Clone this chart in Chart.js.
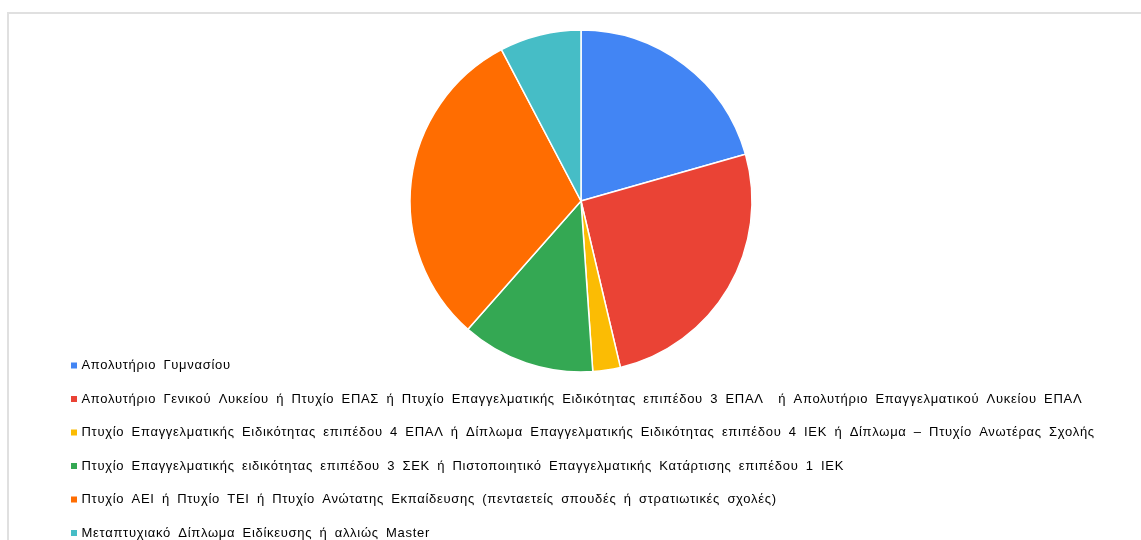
<!DOCTYPE html>
<html>
<head>
<meta charset="utf-8">
<script src="https://cdn.jsdelivr.net/npm/chart.js@4/dist/chart.umd.min.js"></script>
<style>
  body { margin: 0; background: #fff; overflow: hidden; }
  #frame { position: absolute; left: 7px; top: 12px; width: 1150px; height: 540px; border: 2px solid #e0e0e0; box-sizing: border-box; }
  #pie-chart { position: absolute; left: 0; top: 0; }
</style>
</head>
<body>
<div id="frame"></div>
<canvas id="pie-chart" width="1141" height="540"></canvas>
<script>
// titoli di studio
var categorie = [
    'Απολυτήριο Γυμνασίου',
    'Απολυτήριο Γενικού Λυκείου ή Πτυχίο ΕΠΑΣ ή Πτυχίο Επαγγελματικής Ειδικότητας επιπέδου 3 ΕΠΑΛ  ή Απολυτήριο Επαγγελματικού Λυκείου ΕΠΑΛ',
    'Πτυχίο Επαγγελματικής Ειδικότητας επιπέδου 4 ΕΠΑΛ ή Δίπλωμα Επαγγελματικής Ειδικότητας επιπέδου 4 ΙΕΚ ή Δίπλωμα – Πτυχίο Ανωτέρας Σχολής',
    'Πτυχίο Επαγγελματικής ειδικότητας επιπέδου 3 ΣΕΚ ή Πιστοποιητικό Επαγγελματικής Κατάρτισης επιπέδου 1 ΙΕΚ',
    'Πτυχίο ΑΕΙ ή Πτυχίο ΤΕΙ ή Πτυχίο Ανώτατης Εκπαίδευσης (πενταετείς σπουδές ή στρατιωτικές σχολές)',
    'Μεταπτυχιακό Δίπλωμα Ειδίκευσης ή αλλιώς Master'
];
// percentuali
var valori = [20.6, 25.7, 2.6, 12.6, 30.8, 7.7];
var colori = ['#4285F4', '#EA4335', '#FBBC04', '#34A853', '#FF6D01', '#46BDC6'];

// spaziatura del testo come nell'originale
var spaziatura = {
    id: 'spaziatura',
    beforeUpdate: function (chart) {
        chart.ctx.letterSpacing = '0.7px';
        chart.ctx.wordSpacing = '3px';
    },
    afterLayout: function (chart) {
        // la legenda arriva fino al bordo destro
        chart.legend.right = chart.width;
    },
    beforeDraw: function (chart) {
        chart.ctx.letterSpacing = '0.7px';
        chart.ctx.wordSpacing = '3px';
    }
};

var ctx = document.getElementById('pie-chart');
var chart = new Chart(ctx, {
    type: 'pie',
    data: {
        labels: categorie,
        datasets: [{
            data: valori,
            backgroundColor: colori,
            borderColor: '#ffffff',
            borderWidth: 1.5,
            radius: 171,
            clip: false
        }]
    },
    options: {
        responsive: false,
        animation: false,
        events: [],
        layout: {
            padding: { left: 52.5, right: 31.5, top: 63.5, bottom: 0 }
        },
        plugins: {
            tooltip: { enabled: false },
            legend: {
                position: 'bottom',
                align: 'start',
                maxHeight: 201.5,
                labels: {
                    usePointStyle: true,
                    pointStyle: 'rect',
                    boxWidth: 2,
                    boxHeight: 6,
                    padding: 20.5,
                    color: '#595959',
                    font: { family: "'Liberation Sans', Arial, sans-serif", size: 13 },
                    generateLabels: function (c) {
                        return categorie.map(function (nome, i) {
                            return {
                                text: nome,
                                fillStyle: colori[i],
                                strokeStyle: colori[i],
                                lineWidth: 0,
                                pointStyle: 'rect',
                                hidden: false,
                                index: i
                            };
                        });
                    }
                }
            }
        }
    },
    plugins: [spaziatura]
});
</script>
</body>
</html>
